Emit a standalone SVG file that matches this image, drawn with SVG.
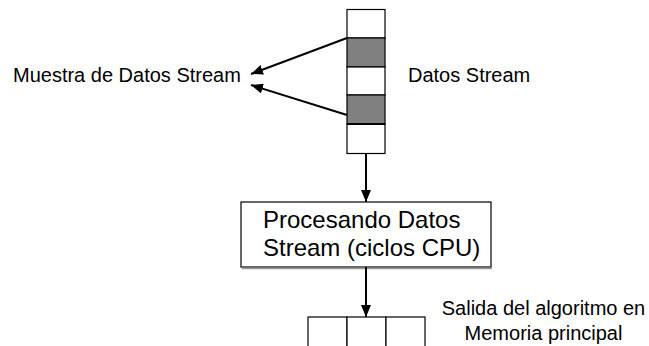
<svg xmlns="http://www.w3.org/2000/svg" width="649" height="346" viewBox="0 0 649 346">
<style>
  text { font-family: "Liberation Sans", Arial, sans-serif; fill: #000; }
  .t20 { font-size: 20px; }
  .t24 { font-size: 24px; }
  .cell { fill: #fff; stroke: #000; stroke-width: 1.2; }
  .dark { fill: #808080; stroke: #000; stroke-width: 1.2; }
  .conn { stroke: #000; stroke-width: 2; fill: none; marker-end: url(#ah); }
</style>
<defs>
  <marker id="ah" viewBox="0 0 12 10" refX="12" refY="5" markerWidth="12" markerHeight="10" markerUnits="userSpaceOnUse" orient="auto">
    <path d="M0,0 L12,5 L0,10 Z" fill="#000"/>
  </marker>
</defs>
<rect width="649" height="346" fill="#fff"/>

<g id="stream">
  <rect class="cell" x="347" y="9.5" width="38" height="28.5"/>
  <rect class="dark" x="347" y="38" width="38" height="29"/>
  <rect class="cell" x="347" y="67" width="38" height="28"/>
  <rect class="dark" x="347" y="95" width="38" height="29"/>
  <rect class="cell" x="347" y="124" width="38" height="29.5"/>
  <line x1="347" y1="124" x2="385" y2="124" stroke="#000" stroke-width="2"/>
</g>

<g id="label-muestra">
  <text class="t20" x="13" y="82">Muestra de Datos Stream</text>
</g>
<g id="label-datos">
  <text class="t20" x="408" y="82">Datos Stream</text>
</g>

<g id="proceso">
  <rect x="241" y="202" width="250" height="65" fill="#fff" stroke="#000" stroke-width="1.2"/>
  <line x1="242" y1="268.5" x2="492" y2="268.5" stroke="#999" stroke-width="1.5"/>
  <text class="t24" x="263" y="228">Procesando Datos</text>
  <text class="t24" x="263" y="256">Stream (ciclos CPU)</text>
</g>

<g id="salida">
  <rect class="cell" x="308" y="317" width="39" height="40"/>
  <rect class="cell" x="347" y="317" width="39" height="40"/>
  <rect class="cell" x="386" y="317" width="39" height="40"/>
</g>
<g id="label-salida">
  <text class="t20" x="543.5" y="315" text-anchor="middle">Salida del algoritmo en</text>
  <text class="t20" x="543.5" y="340" text-anchor="middle">Memoria principal</text>
</g>

<g id="connectors">
  <line class="conn" x1="347" y1="38" x2="251" y2="74"/>
  <line class="conn" x1="347" y1="115" x2="251" y2="85"/>
  <line class="conn" x1="366" y1="153.5" x2="366" y2="202"/>
  <line class="conn" x1="366" y1="267" x2="366" y2="317"/>
</g>
</svg>
